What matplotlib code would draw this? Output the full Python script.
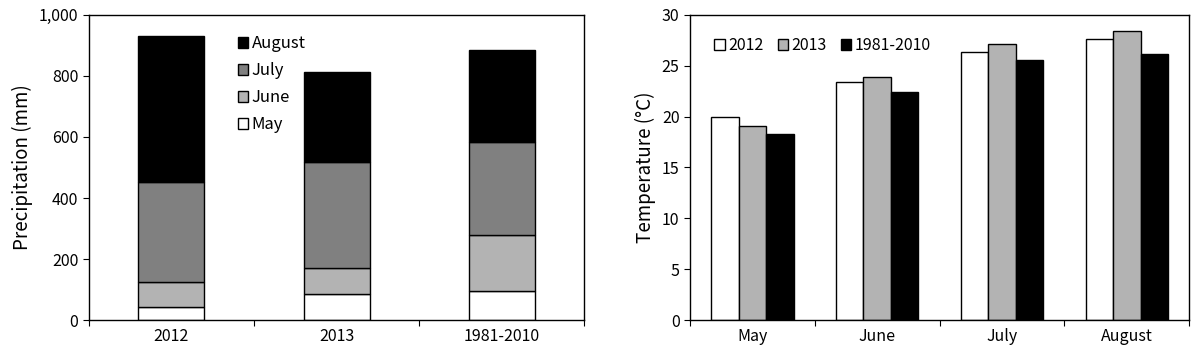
import numpy as np
import matplotlib.pyplot as plt
from matplotlib.ticker import FuncFormatter

plt.rcParams['font.family'] = ['Noto Sans CJK KR', 'DejaVu Sans']

# precipitation (mm), monthly totals stacked per period
periods = ["2012", "2013", "1981-2010"]
months = ["May", "June", "July", "August"]
precip_may = [42, 87, 96]
precip_june = [84, 85, 183]
precip_july = [328, 345, 306]
precip_aug = [477, 297, 300]

# mean temperature (deg C) per month
temp_2012 = [20.0, 23.4, 26.4, 27.6]
temp_2013 = [19.1, 23.9, 27.1, 28.4]
temp_normal = [18.3, 22.4, 25.6, 26.2]

month_colors = ["white", "#b3b3b3", "#808080", "black"]
period_colors = ["white", "#b3b3b3", "black"]

Fig = plt.figure(figsize=(12, 3.56), dpi=100)
Ax1 = Fig.add_axes([0.074, 0.101, 0.413, 0.857])
Ax2 = Fig.add_axes([0.575, 0.101, 0.416, 0.857])

# ---- left: stacked precipitation
x = np.arange(len(periods))
bottom = np.zeros(len(periods))
stack = [precip_may, precip_june, precip_july, precip_aug]
for vals, col, lab in zip(stack, month_colors, months):
    Ax1.bar(x, vals, 0.4, bottom=bottom, color=col, edgecolor="black", lw=1, label=lab)
    bottom += np.array(vals)

Ax1.set_xlim(-0.5, 2.5)
Ax1.set_ylim(0, 1000)
Ax1.set_yticks(range(0, 1001, 200))
Ax1.yaxis.set_major_formatter(FuncFormatter(lambda v, p: f"{int(v):,}"))
Ax1.set_xticks([-0.5, 0.5, 1.5, 2.5])
Ax1.set_xticklabels([])
Ax1.set_xticks(x, minor=True)
Ax1.set_xticklabels(periods, minor=True)
Ax1.set_ylabel("Precipitation (mm)", fontsize=13.5)
h, l = Ax1.get_legend_handles_labels()
Ax1.legend(h[::-1], l[::-1], loc="upper left", bbox_to_anchor=(0.27, 0.982), frameon=False,
           handlelength=0.65, handleheight=0.65, handletextpad=0.2, labelspacing=0.6, fontsize=12)

# ---- right: grouped temperature
x2 = np.arange(len(months))
w = 0.22
for i, (vals, col, lab) in enumerate(zip([temp_2012, temp_2013, temp_normal], period_colors, periods)):
    Ax2.bar(x2 + (i - 1) * w, vals, w, color=col, edgecolor="black", lw=1, label=lab)

Ax2.set_xlim(-0.5, 3.5)
Ax2.set_ylim(0, 30)
Ax2.set_yticks(range(0, 31, 5))
Ax2.set_xticks([-0.5, 0.5, 1.5, 2.5, 3.5])
Ax2.set_xticklabels([])
Ax2.set_xticks(x2, minor=True)
Ax2.set_xticklabels(months, minor=True)
Ax2.set_ylabel("Temperature (°C)", fontsize=13.5)
Ax2.legend(loc="upper left", bbox_to_anchor=(0.02, 0.975), ncol=3, frameon=False,
           handlelength=0.65, handleheight=0.65, handletextpad=0.2, columnspacing=0.9, fontsize=11.5)

for Ax in (Ax1, Ax2):
    Ax.tick_params(axis="both", which="major", direction="out", length=4, labelsize=11.5)
    Ax.tick_params(axis="x", which="minor", length=0, pad=6, labelsize=11.5)
    for s in Ax.spines.values():
        s.set_linewidth(1)

Fig.savefig("out.png", dpi=100)
